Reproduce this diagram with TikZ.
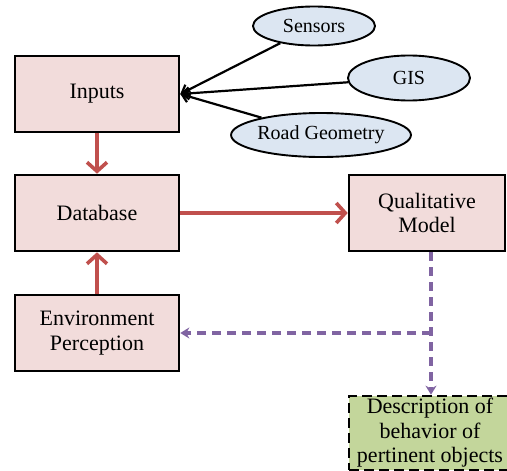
\documentclass[tikz,border=0pt]{standalone}
\usepackage{fontspec}
\setmainfont{Liberation Serif}
\usetikzlibrary{arrows.meta,shapes.geometric}
\definecolor{boxfill}{HTML}{F2DCDB}
\definecolor{ellfill}{HTML}{DCE6F2}
\definecolor{greenfill}{HTML}{C3D69B}
\definecolor{redarrow}{HTML}{C0504D}
\definecolor{purplearrow}{HTML}{8064A2}
\tikzset{
  pinkbox/.style={draw=black, line width=2.6pt, fill=boxfill, rectangle,
    minimum width=164pt, minimum height=76pt, inner sep=0pt, align=center,
    font=\fontsize{22}{24.5}\selectfont},
  qualbox/.style={pinkbox, minimum width=156pt, minimum height=76pt},
  descbox/.style={draw=black, line width=2.6pt, dash pattern=on 10pt off 5pt,
    fill=greenfill, rectangle, minimum width=162pt, minimum height=74pt,
    inner sep=0pt, align=center, font=\fontsize{22}{24.5}\selectfont},
  inell/.style={draw=black, line width=1.9pt, fill=ellfill, ellipse,
    inner sep=0pt, font=\fontsize{20}{22}\selectfont},
  blackarr/.style={draw=black, line width=2.2pt, -{Straight Barb[length=7pt,width=12pt]}},
  redarr/.style={draw=redarrow, line width=3.6pt, -{Straight Barb[length=9pt,width=20pt]}},
  purparr/.style={draw=purplearrow, line width=3.2pt, dash pattern=on 9pt off 6pt,
    -{Stealth[length=9pt,width=11pt]}}
}
\begin{document}
\begin{tikzpicture}[x=1pt,y=-1pt]
\useasboundingbox (0,0) rectangle (507,471);
\fill[white] (0,0) rectangle (507,471);
\node[pinkbox] (in) at (97,94) {Inputs};
\node[pinkbox] (db) at (97,213) {Database};
\node[pinkbox] (env) at (97,333) {Environment\\Perception};
\node[qualbox] (q) at (427,213) {Qualitative\\Model};
\node[descbox] (d) at (430,433) {Description of\\behavior of\\pertinent objects};
\node[inell, minimum width=122pt, minimum height=39pt] (s) at (314,26) {Sensors};
\node[inell, minimum width=122pt, minimum height=45pt] (g) at (409,78) {GIS};
\node[inell, minimum width=145pt, minimum height=44pt] (r) at (321,135) {Road Geometry};
\draw[blackarr] (s) -- (in.east);
\draw[blackarr] (g) -- (in.east);
\draw[blackarr] (r) -- (in.east);
\draw[redarr] (in.south) -- (db.north);
\draw[redarr] (env.north) -- (db.south);
\draw[redarr] (db.east) -- (q.west);
\coordinate (j) at (431,333);
\draw[purparr] (q.south -| j) -- (d.north -| j);
\draw[purparr] (j) -- (env.east);
\end{tikzpicture}
\end{document}
